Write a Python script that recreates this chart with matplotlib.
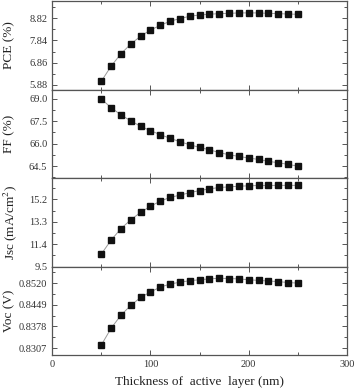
import numpy as np
import matplotlib.pyplot as plt
from matplotlib.ticker import MultipleLocator, FixedLocator

plt.rcParams["font.family"] = ["Liberation Serif", "DejaVu Serif"]
plt.rcParams["mathtext.fontset"] = "stix"

thickness = [50, 60, 70, 80, 90, 100, 110, 120, 130, 140, 150,
             160, 170, 180, 190, 200, 210, 220, 230, 240, 250]

pce = [6.03, 6.70, 7.25, 7.68, 8.03, 8.30, 8.51, 8.69, 8.81, 8.91, 8.97,
       9.00, 9.03, 9.04, 9.06, 9.06, 9.06, 9.04, 9.03, 9.01, 9.00]

ff = [68.98, 68.40, 67.92, 67.52, 67.16, 66.87, 66.60, 66.36, 66.13, 65.93, 65.75,
      65.59, 65.41, 65.26, 65.15, 65.04, 64.95, 64.82, 64.73, 64.62, 64.50]

jsc = [10.56, 11.75, 12.72, 13.47, 14.10, 14.62, 15.05, 15.37, 15.56, 15.77, 15.95,
       16.09, 16.21, 16.26, 16.32, 16.35, 16.38, 16.38, 16.39, 16.39, 16.39]

voc = [0.8317, 0.8372, 0.8415, 0.8447, 0.8473, 0.8491, 0.8507, 0.8517, 0.8523, 0.8528, 0.8531,
       0.8534, 0.8536, 0.8535, 0.8534, 0.8531, 0.8529, 0.8527, 0.8525, 0.8522, 0.8520]

panels = [
    (pce, "PCE (%)", [5.88, 6.86, 7.84, 8.82], (5.66, 9.58), "{:.2f}", -0.125),
    (ff, "FF (%)", [64.5, 66.0, 67.5, 69.0], (63.7, 69.6), "{:.1f}", -0.125),
    (jsc, "Jsc (mA/cm$^2$)", [9.5, 11.4, 13.3, 15.2], (9.5, 17.0), "{:.1f}", -0.112),
    (voc, "Voc (V)", [0.8307, 0.8378, 0.8449, 0.8520], (0.8284, 0.8574), "{:.4f}", -0.125),
]

fig = plt.figure(figsize=(3.57, 3.92), dpi=100)
gs = fig.add_gridspec(4, 1, left=0.146, right=0.972, top=0.997, bottom=0.094, hspace=0)

edge = "#555555"
for i, (vals, label, ticks, lim, fmt, lx) in enumerate(panels):
    ax = fig.add_subplot(gs[i])
    ax.plot(thickness, vals, color="#999999", linewidth=0.7,
            marker="s", markersize=4.8, markerfacecolor="#111111",
            markeredgecolor="#111111")
    ax.set_xlim(0, 300)
    ax.set_ylim(*lim)
    ax.yaxis.set_major_locator(FixedLocator(ticks))
    step = ticks[1] - ticks[0]
    minors = [ticks[0] + k * step / 2 for k in range(-2, 9)]
    ax.yaxis.set_minor_locator(FixedLocator(minors))
    ax.set_yticklabels([fmt.format(t) for t in ticks])
    ax.xaxis.set_major_locator(MultipleLocator(100))
    ax.xaxis.set_minor_locator(MultipleLocator(50))
    ax.tick_params(which="both", direction="in", top=True, right=True,
                   labelsize=7.5, colors=edge, labelcolor="#333333", width=0.7)
    ax.tick_params(which="major", length=3.5)
    ax.tick_params(which="minor", length=2)
    for s in ax.spines.values():
        s.set_color(edge)
        s.set_linewidth(0.9)
    ax.set_ylabel(label, fontsize=9.5, color="#222222")
    ax.yaxis.set_label_coords(lx, 0.5)
    if i < 3:
        ax.tick_params(labelbottom=False)
    else:
        ax.set_xlabel("Thickness of  active  layer (nm)", fontsize=9.5,
                      color="#222222", labelpad=5)

fig.savefig("out.png", dpi=100)
